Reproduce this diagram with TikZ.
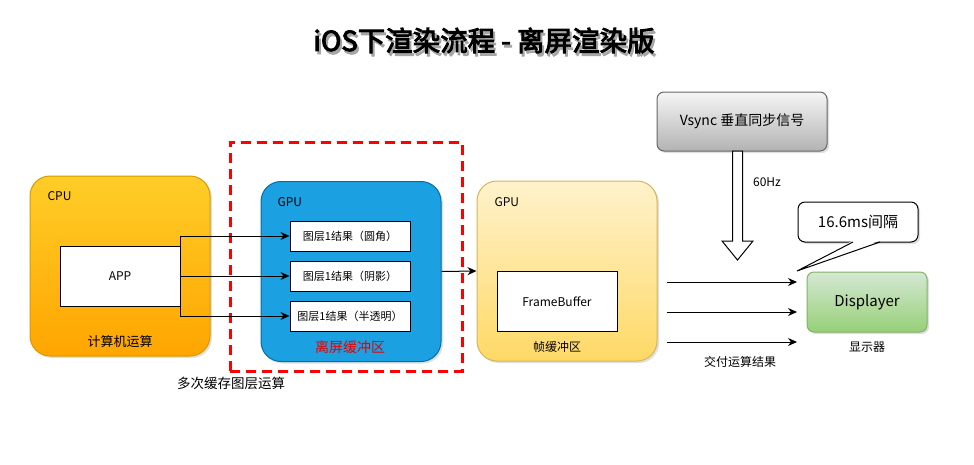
\documentclass[tikz,border=0pt]{standalone}
\usepackage{fontspec}
\setmainfont{Noto Sans CJK SC}
\newfontfamily\titlefont[FakeBold=3.5]{Noto Sans CJK SC}
\usepackage{tikz}
\usetikzlibrary{arrows.meta}
\usetikzlibrary{shadows}

\definecolor{cpuTop}{HTML}{FFCD28}
\definecolor{cpuBot}{HTML}{FFA500}
\definecolor{cpuLine}{HTML}{D79B00}
\definecolor{gpuBlue}{HTML}{1BA1E2}
\definecolor{gpuBlueLine}{HTML}{006EAF}
\definecolor{fbTop}{HTML}{FFF2CC}
\definecolor{fbBot}{HTML}{FFD966}
\definecolor{fbLine}{HTML}{D6B656}
\definecolor{vsTop}{HTML}{F5F5F5}
\definecolor{vsBot}{HTML}{B3B3B3}
\definecolor{vsLine}{HTML}{666666}
\definecolor{dispTop}{HTML}{D5E8D4}
\definecolor{dispBot}{HTML}{97D077}
\definecolor{dispLine}{HTML}{82B366}
\definecolor{offRed}{HTML}{FF0000}

\newcommand{\shadowtext}[1]{\makebox[0pt][l]{\hspace{2pt}\raisebox{-3pt}{\color{black!35}#1}}#1}

\tikzset{
  shade box/.style={drop shadow={shadow xshift=2pt,shadow yshift=-2pt,opacity=0.25}},
  unit/.style={shade box, rounded corners=20pt, minimum width=180pt, minimum height=180pt, inner sep=0pt},
  box/.style={draw, fill=white, minimum width=120pt, minimum height=60pt, inner sep=0pt, font=\fontsize{12}{14}\selectfont},
  layerbox/.style={box, minimum height=30pt, font=\fontsize{11}{13}\selectfont},
  lbl/.style={inner sep=0pt, font=\fontsize{12}{14}\selectfont},
  link/.style={-{Stealth[length=9pt,width=8pt]}},
}

\begin{document}
\begin{tikzpicture}[x=1pt,y=-1pt,line width=1pt]
  \fill[white] (0,0) rectangle (974,464);
  \useasboundingbox (0,0) rectangle (974,464);

  % title
  \node[lbl, font=\titlefont\fontsize{27.5}{31}\selectfont] (title) at (484,42) {\shadowtext{iOS下渲染流程 - 离屏渲染版}};

  % CPU
  \node[unit, draw=cpuLine, top color=cpuTop, bottom color=cpuBot] (cpu) at (120,266) {};
  \node[lbl, anchor=west] (cpulbl) at (47,196) {CPU};
  \node[box] (app) at (120,276) {APP};
  \node[lbl, font=\fontsize{13}{15}\selectfont] (cpucalc) at (120,342) {计算机运算};

  % offscreen buffer
  \node[draw=offRed, line width=3pt, dash pattern=on 10pt off 6pt, minimum width=232pt, minimum height=229pt, inner sep=0pt] (offarea) at (346,256.5) {};
  \node[unit, draw=gpuBlueLine, fill=gpuBlue] (gpua) at (351,271.5) {};
  \node[lbl, anchor=west] (gpualbl) at (277,202) {GPU};
  \node[layerbox] (l1) at (350,236) {图层1结果（圆角）};
  \node[layerbox] (l2) at (350,276) {图层1结果（阴影）};
  \node[layerbox] (l3) at (350,316) {图层1结果（半透明）};
  \node[lbl, text=offRed!90!black, font=\fontsize{14}{16}\selectfont] (offlbl) at (350,347) {离屏缓冲区};
  \node[lbl, font=\fontsize{13.5}{16}\selectfont] (multilbl) at (231,383) {多次缓存图层运算};

  % frame buffer
  \node[unit, draw=fbLine, top color=fbTop, bottom color=fbBot] (gpub) at (567,271) {};
  \node[lbl, anchor=west] (gpublbl) at (494,202) {GPU};
  \node[box] (fb) at (557,301.5) {FrameBuffer};
  \node[lbl] (fblbl) at (557,347) {帧缓冲区};

  % vsync + display
  \node[shade box, draw=vsLine, top color=vsTop, bottom color=vsBot, rounded corners=7pt, minimum width=170pt, minimum height=59pt, font=\fontsize{14}{16}\selectfont] (vsync) at (742,121.5) {Vsync 垂直同步信号};
  \node[shade box, draw=dispLine, top color=dispTop, bottom color=dispBot, rounded corners=7pt, minimum width=120pt, minimum height=60pt, font=\fontsize{15}{17}\selectfont] (disp) at (867,302) {Displayer};
  \node[lbl] (displbl) at (867,347) {显示器};

  % hollow arrow
  \draw[fill=white] (732.5,151) -- (742.5,151) -- (742.5,241) -- (753,241) -- (737.5,260)
    -- (722,241) -- (732.5,241) -- cycle;
  \node[lbl] (hzlbl) at (767,182) {60Hz};

  % callout
  \node[shade box, draw, fill=white, rounded corners=7pt, minimum width=120pt, minimum height=40pt, font=\fontsize{15}{17}\selectfont] (bubble) at (858,222) {16.6ms间隔};
  \coordinate (btip) at (797,271);
  \fill[white] (853,240.5) -- (btip) -- (880,240.5) -- cycle;
  \draw (853,242) -- (btip) -- (880,242);

  % connectors
  \draw[link] (app.east) |- (l1.west);
  \draw[link] (app.east) -- (l2.west);
  \draw[link] (app.east) |- (l3.west);
  \draw[link] (gpua.east) -- (gpub.west);

  \coordinate (o1) at (667,282);
  \coordinate (o2) at (667,312);
  \coordinate (o3) at (667,342);
  \coordinate (e1) at (797,282);
  \coordinate (e2) at (797,312);
  \coordinate (e3) at (797,342);
  \draw[link] (o1) -- (e1);
  \draw[link] (o2) -- (e2);
  \draw[link] (o3) -- (e3);
  \node[lbl] (outlbl) at (740,362) {交付运算结果};
\end{tikzpicture}
\end{document}
